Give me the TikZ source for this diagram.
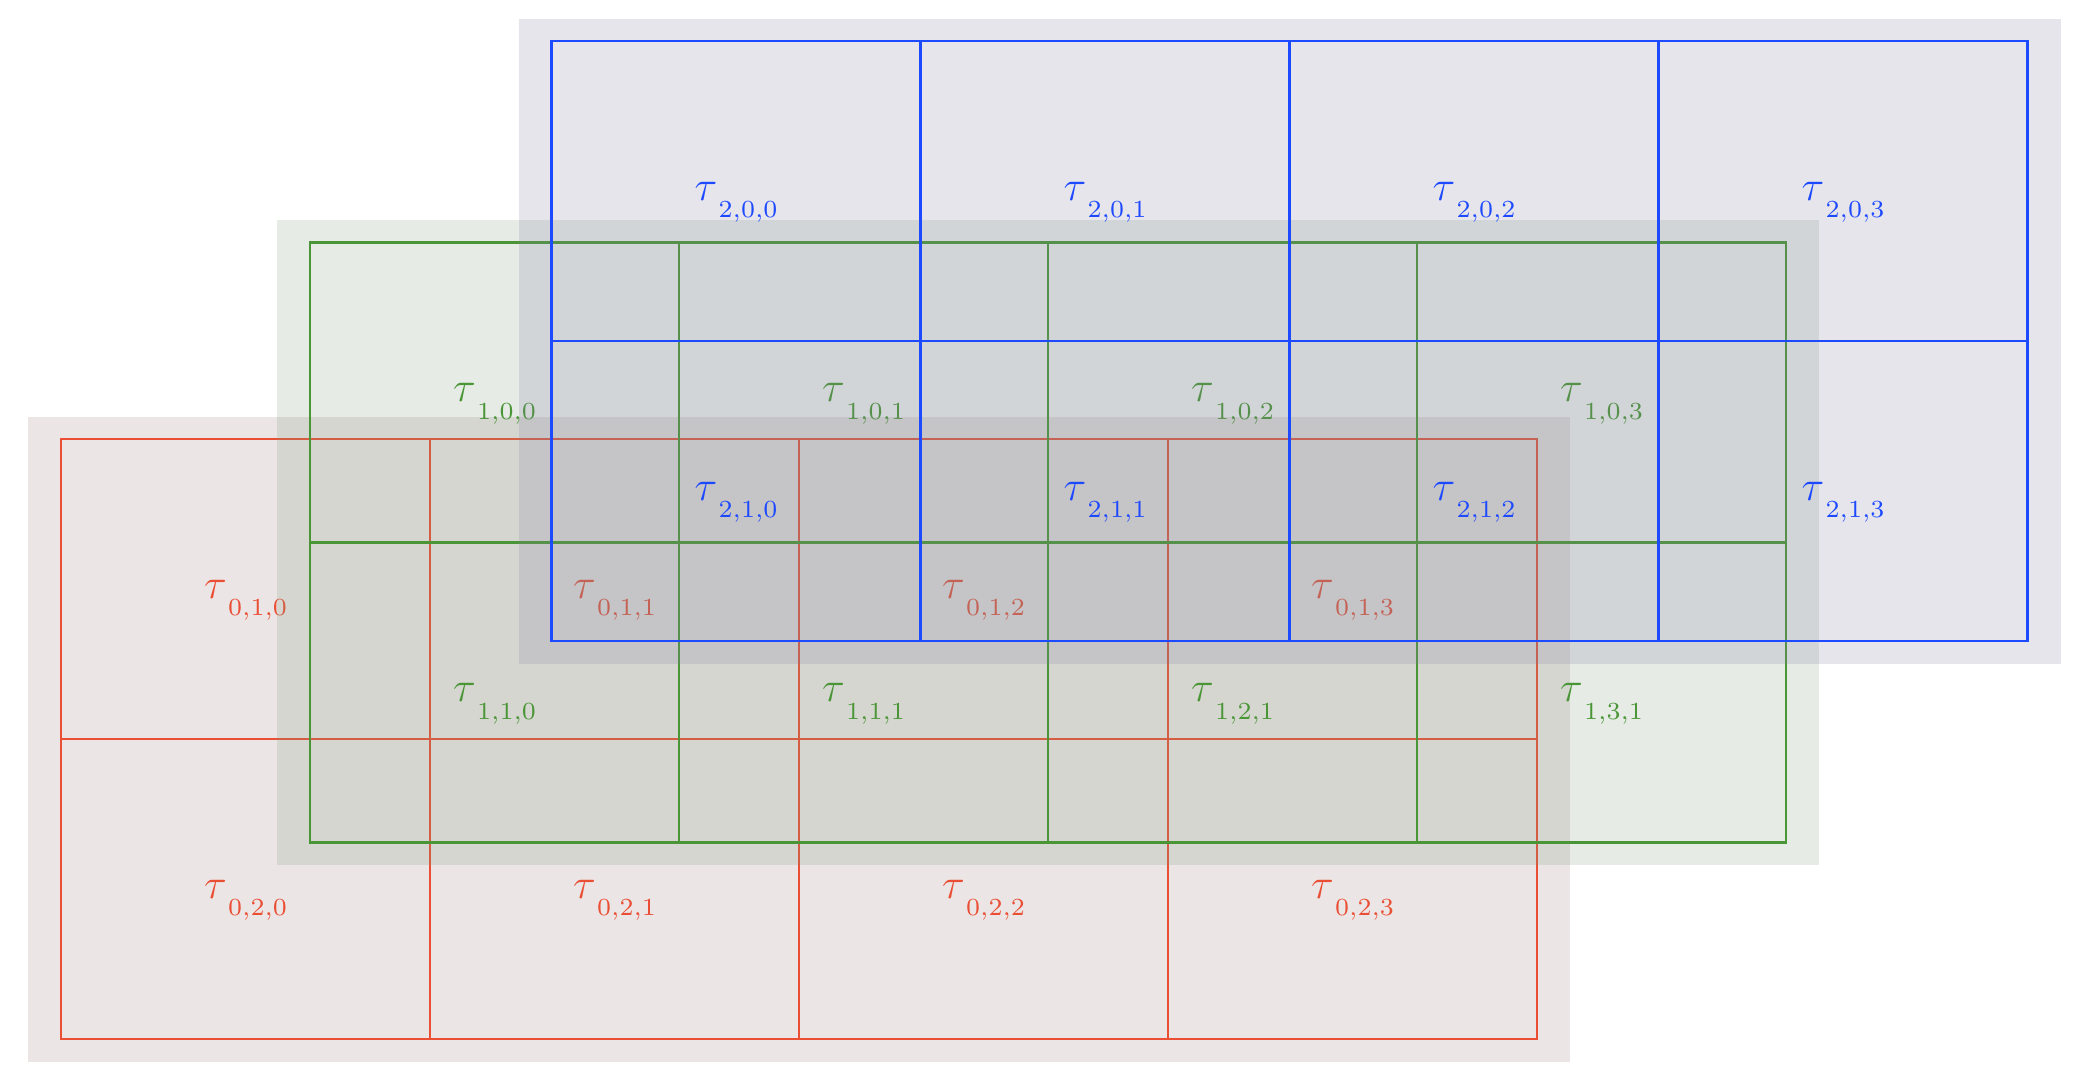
\documentclass[tikz,border=0pt]{standalone}
\definecolor{lnR}{RGB}{234,78,52}
\definecolor{lnG}{RGB}{74,150,54}
\definecolor{lnB}{RGB}{30,74,255}
\definecolor{bgR}{RGB}{155,125,125}
\definecolor{bgG}{RGB}{130,155,130}
\definecolor{bgB}{RGB}{130,125,160}
\newcommand{\tsub}[1]{{\fontsize{12}{14}\selectfont$\tau$}\hspace{0.4pt}\raisebox{-5pt}{$\scriptstyle #1$}}
\tikzset{
  layerbg/.style={fill=#1, fill opacity=0.2, draw=none},
  gridline/.style={draw=#1, line width=0.6pt},
  lab/.style={anchor=base, inner sep=0pt, text=#1}
}
\begin{document}
\begin{tikzpicture}[x=0.01cm, y=-0.01cm]
\useasboundingbox (0,0) rectangle (2092,1084);
% ---------- layer 0 (red) ----------
\begin{scope}[shift={(61,439)}]
  \fill[layerbg=bgR] (-33,-22.5) rectangle (1509,622.5);
  \draw[gridline=lnR] (0,0) rectangle (1476,600);
  \draw[gridline=lnR] (369,0) -- (369,600) (738,0) -- (738,600) (1107,0) -- (1107,600) (0,300) -- (1476,300);
  \node[lab=lnR] (r010) at (184.5,159) {\tsub{0,1,0}};
  \node[lab=lnR] (r011) at (553.5,159) {\tsub{0,1,1}};
  \node[lab=lnR] (r012) at (922.5,159) {\tsub{0,1,2}};
  \node[lab=lnR] (r013) at (1291.5,159) {\tsub{0,1,3}};
  \node[lab=lnR] (r020) at (184.5,459) {\tsub{0,2,0}};
  \node[lab=lnR] (r021) at (553.5,459) {\tsub{0,2,1}};
  \node[lab=lnR] (r022) at (922.5,459) {\tsub{0,2,2}};
  \node[lab=lnR] (r023) at (1291.5,459) {\tsub{0,2,3}};
\end{scope}
% ---------- layer 1 (green) ----------
\begin{scope}[shift={(310,242.5)}]
  \fill[layerbg=bgG] (-33,-22.5) rectangle (1509,622.5);
  \draw[gridline=lnG] (0,0) rectangle (1476,600);
  \draw[gridline=lnG] (369,0) -- (369,600) (738,0) -- (738,600) (1107,0) -- (1107,600) (0,300) -- (1476,300);
  \node[lab=lnG] (g100) at (184.5,159) {\tsub{1,0,0}};
  \node[lab=lnG] (g101) at (553.5,159) {\tsub{1,0,1}};
  \node[lab=lnG] (g102) at (922.5,159) {\tsub{1,0,2}};
  \node[lab=lnG] (g103) at (1291.5,159) {\tsub{1,0,3}};
  \node[lab=lnG] (g110) at (184.5,459) {\tsub{1,1,0}};
  \node[lab=lnG] (g111) at (553.5,459) {\tsub{1,1,1}};
  \node[lab=lnG] (g121) at (922.5,459) {\tsub{1,2,1}};
  \node[lab=lnG] (g131) at (1291.5,459) {\tsub{1,3,1}};
\end{scope}
% ---------- layer 2 (blue) ----------
\begin{scope}[shift={(551.5,41)}]
  \fill[layerbg=bgB] (-33,-22.5) rectangle (1509,622.5);
  \draw[gridline=lnB] (0,0) rectangle (1476,600);
  \draw[gridline=lnB] (369,0) -- (369,600) (738,0) -- (738,600) (1107,0) -- (1107,600) (0,300) -- (1476,300);
  \node[lab=lnB] (b200) at (184.5,159) {\tsub{2,0,0}};
  \node[lab=lnB] (b201) at (553.5,159) {\tsub{2,0,1}};
  \node[lab=lnB] (b202) at (922.5,159) {\tsub{2,0,2}};
  \node[lab=lnB] (b203) at (1291.5,159) {\tsub{2,0,3}};
  \node[lab=lnB] (b210) at (184.5,459) {\tsub{2,1,0}};
  \node[lab=lnB] (b211) at (553.5,459) {\tsub{2,1,1}};
  \node[lab=lnB] (b212) at (922.5,459) {\tsub{2,1,2}};
  \node[lab=lnB] (b213) at (1291.5,459) {\tsub{2,1,3}};
\end{scope}
\end{tikzpicture}
\end{document}
